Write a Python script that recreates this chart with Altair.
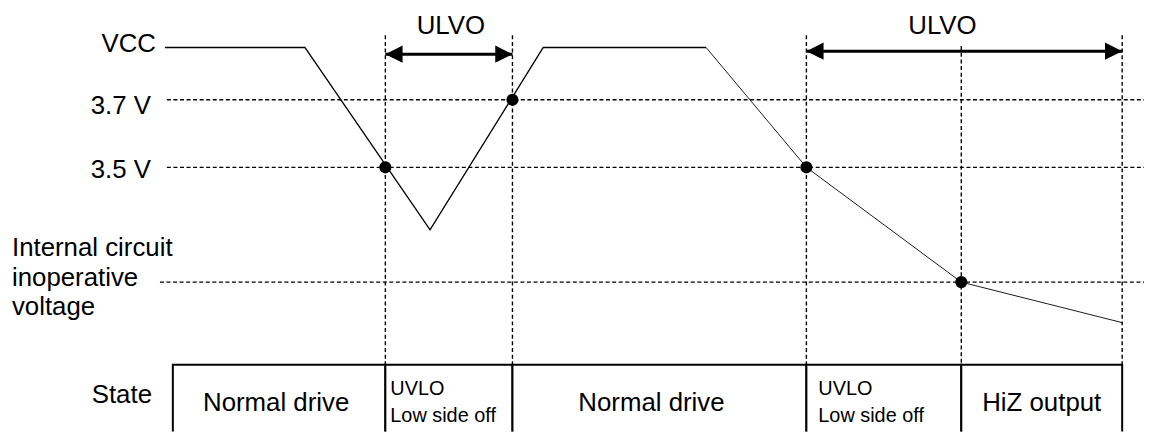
import altair as alt
import pandas as pd

# ---------------- data (time in arbitrary units, voltage in V) ----------------
trace_t = [15.8, 29.9, 42.5, 53.9, 70.3, 80.4, 96.0, 112.2]
trace_v = [3.855, 3.855, 3.315, 3.855, 3.855, 3.50, 3.16, 3.04]

level_names = ["3.7 V", "3.5 V", "Internal circuit inoperative voltage"]
level_v = [3.70, 3.50, 3.16]
level_t0 = [16.0, 16.0, 15.3]
level_t1 = [114.4, 114.4, 114.4]

event_t = [38.0, 50.8, 80.4, 96.0, 112.2]
event_top = [3.891, 3.891, 3.891, 3.859, 3.891]
table_top = 2.915
table_bottom = 2.70

dot_t = [38.0, 50.8, 80.4, 96.0]
dot_v = [3.50, 3.70, 3.50, 3.16]

arrow_t0 = [38.0, 80.4]
arrow_t1 = [50.8, 112.2]
arrow_v = [3.835, 3.844]
arrow_label = ["ULVO", "ULVO"]
arrow_label_t = [44.6, 94.1]
arrow_label_v = [3.894, 3.894]

state_bounds = [16.6, 38.0, 50.8, 80.4, 96.0, 112.2]
state_names = ["Normal drive", "UVLO Low side off", "Normal drive", "UVLO Low side off", "HiZ output"]

# left-side labels (right aligned)
left_labels = ["VCC", "3.7 V", "3.5 V", "State"]
left_label_t = [14.9, 14.4, 14.4, 14.5]
left_label_v = [3.841, 3.6587, 3.4675, 2.8028]

# multi-line label (left aligned)
int_lines = ["Internal circuit", "inoperative", "voltage"]
int_t = [0.4, 0.4, 0.4]
int_v = [3.2381, 3.1499, 3.0616]

# state texts
big_state_text = ["Normal drive", "Normal drive", "HiZ output"]
big_state_t = [27.0, 64.8, 104.1]
big_state_v = [2.7793, 2.7793, 2.7793]
small_state_text = ["UVLO", "Low side off", "UVLO", "Low side off"]
small_state_t = [38.5, 38.5, 81.6, 81.6]
small_state_v = [2.8264, 2.747, 2.8264, 2.747]

# ---------------- tables ----------------
trace_a = pd.DataFrame({"t": trace_t[:5], "v": trace_v[:5]})
trace_b = pd.DataFrame({"t": trace_t[4:], "v": trace_v[4:]})
levels = pd.DataFrame({"name": level_names, "v": level_v, "t0": level_t0, "t1": level_t1})
events = pd.DataFrame({"t": event_t, "top": event_top, "bot": [table_top] * len(event_t)})
dots = pd.DataFrame({"t": dot_t, "v": dot_v})
arrows = pd.DataFrame({"t0": arrow_t0, "t1": arrow_t1, "v": arrow_v})
arrow_txt = pd.DataFrame({"label": arrow_label, "t": arrow_label_t, "v": arrow_label_v})
states = pd.DataFrame({
    "name": state_names,
    "t0": state_bounds[:-1],
    "t1": state_bounds[1:],
    "top": [table_top] * 5,
    "bot": [table_bottom] * 5,
})
left_df = pd.DataFrame({"label": left_labels, "t": left_label_t, "v": left_label_v})
int_df = pd.DataFrame({"label": int_lines, "t": int_t, "v": int_v})
big_df = pd.DataFrame({"label": big_state_text, "t": big_state_t, "v": big_state_v})
small_df = pd.DataFrame({"label": small_state_text, "t": small_state_t, "v": small_state_v})

xs = alt.Scale(domain=[0, 114.7], nice=False, zero=False)
ys = alt.Scale(domain=[2.7175, 3.9675], nice=False, zero=False)

def X(f):
    return alt.X(f, type="quantitative", scale=xs, axis=None)

def Y(f):
    return alt.Y(f, type="quantitative", scale=ys, axis=None)

FONT = "Liberation Sans"

hdash = alt.Chart(levels).mark_rule(color="black", strokeWidth=1.4, strokeDash=[4, 2.6]).encode(
    x=X("t0"), x2="t1", y=Y("v"))
vdash = alt.Chart(events).mark_rule(color="black", strokeWidth=1.4, strokeDash=[4, 2.7]).encode(
    x=X("t"), y=Y("top"), y2="bot")

table = alt.Chart(states).mark_rect(fill="white", stroke="black", strokeWidth=2, clip=True).encode(
    x=X("t0"), x2="t1", y=Y("top"), y2="bot")

line_a = alt.Chart(trace_a).mark_line(color="black", strokeWidth=1.4).encode(x=X("t"), y=Y("v"))
line_b = alt.Chart(trace_b).mark_line(color="black", strokeWidth=0.9).encode(x=X("t"), y=Y("v"))

arrow_line = alt.Chart(arrows).mark_rule(color="black", strokeWidth=3).encode(
    x=X("t0"), x2="t1", y=Y("v"))
head_left = alt.Chart(arrows).mark_point(
    shape="M0,0 L2,-1 L2,1 Z", filled=True, color="black", opacity=1, size=300, strokeWidth=0
).encode(x=X("t0"), y=Y("v"))
head_right = alt.Chart(arrows).mark_point(
    shape="M0,0 L-2,-1 L-2,1 Z", filled=True, color="black", opacity=1, size=300, strokeWidth=0
).encode(x=X("t1"), y=Y("v"))

dot_layer = alt.Chart(dots).mark_circle(color="black", opacity=1, size=150).encode(
    x=X("t"), y=Y("v"))

arrow_text = alt.Chart(arrow_txt).mark_text(
    font=FONT, fontSize=26, align="center", baseline="alphabetic", color="black"
).encode(x=X("t"), y=Y("v"), text="label:N")

left_text = alt.Chart(left_df).mark_text(
    font=FONT, fontSize=26, align="right", baseline="alphabetic", color="black"
).encode(x=X("t"), y=Y("v"), text="label:N")

int_text = alt.Chart(int_df).mark_text(
    font=FONT, fontSize=26, align="left", baseline="alphabetic", color="black"
).encode(x=X("t"), y=Y("v"), text="label:N")

big_text = alt.Chart(big_df).mark_text(
    font=FONT, fontSize=26, align="center", baseline="alphabetic", color="black"
).encode(x=X("t"), y=Y("v"), text="label:N")

small_text = alt.Chart(small_df).mark_text(
    font=FONT, fontSize=20, align="left", baseline="alphabetic", color="black"
).encode(x=X("t"), y=Y("v"), text="label:N")

chart = alt.layer(
    hdash, vdash, table, line_a, line_b, arrow_line, head_left, head_right,
    dot_layer, arrow_text, left_text, int_text, big_text, small_text
).properties(
    width=1147, height=425,
    autosize=alt.AutoSizeParams(type="none"),
    padding=0,
    background="white",
).configure_view(stroke=None)

chart.save("out.html", embed_options={"renderer": "svg", "actions": False})
